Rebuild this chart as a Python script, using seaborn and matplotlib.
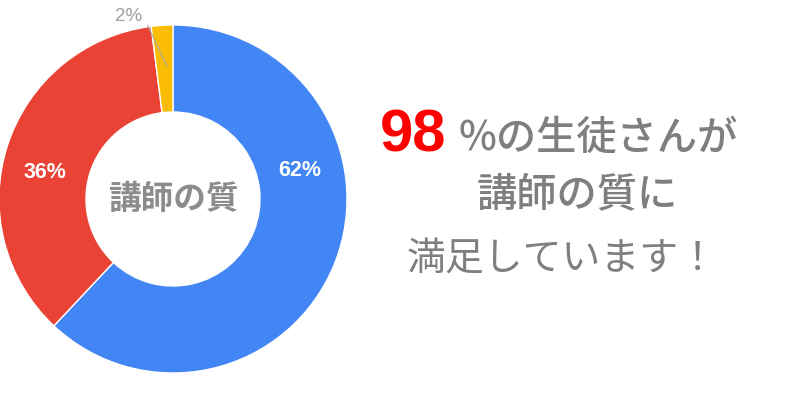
import matplotlib.pyplot as plt
import seaborn as sns

# data
categories = ["満足", "やや満足", "不満"]
shares = [62, 36, 2]
slice_colors = ["#4285F4", "#EA4335", "#FBBC04"]
pct_labels = ["62%", "36%", "2%"]
center_label = "講師の質"
headline_value = "98"
headline_lines = ["%の生徒さんが", "講師の質に", "満足しています！"]

sns.set_style("white")
plt.rcParams["font.family"] = ["Noto Sans CJK JP", "DejaVu Sans"]
latin = ["Liberation Sans", "DejaVu Sans"]

fig = plt.figure(figsize=(8, 4), dpi=100)
ax = fig.add_axes([-0.00125, 0.0675, 0.435, 0.87])

wedges, _ = ax.pie(
    shares,
    colors=slice_colors,
    startangle=90,
    counterclock=False,
    radius=1.0,
    wedgeprops={"width": 0.5, "edgecolor": "white", "linewidth": 1},
)
ax.set_xlim(-1, 1)
ax.set_ylim(-1, 1)
ax.set_aspect("equal")
ax.axis("off")

# slice labels
ax.text(0.73, 0.165, pct_labels[0], color="white", fontsize=15.5, fontweight="bold",
        ha="center", va="center", family=latin)
ax.text(-0.735, 0.15, pct_labels[1], color="white", fontsize=15.5, fontweight="bold",
        ha="center", va="center", family=latin)
ax.annotate(pct_labels[2], xy=(-0.034, 0.76), xytext=(-0.175, 1.05),
            color="#9e9e9e", fontsize=13.5, ha="right", va="center", family=latin,
            arrowprops={"arrowstyle": "-", "color": "#aaaaaa", "lw": 0.8,
                        "relpos": (1.0, 0.6), "shrinkA": 3, "shrinkB": 0})

ax.text(0, 0, center_label, color="#8c8c8c", fontsize=23.5, fontweight="bold",
        ha="center", va="center")

# headline text
fig.text(0.475, 0.62, headline_value, color="#ff0000", fontsize=43, fontweight="bold",
         ha="left", va="baseline", family=latin)
fig.text(0.5725, 0.625, headline_lines[0], color="#7f7f7f", fontsize=29, fontweight="medium",
         ha="left", va="baseline")
fig.text(0.721, 0.5125, headline_lines[1], color="#7f7f7f", fontsize=29, fontweight="medium",
         ha="center", va="center")
fig.text(0.703, 0.35, headline_lines[2], color="#7f7f7f", fontsize=28,
         ha="center", va="center")

fig.savefig("out.png", dpi=100, facecolor="white")
